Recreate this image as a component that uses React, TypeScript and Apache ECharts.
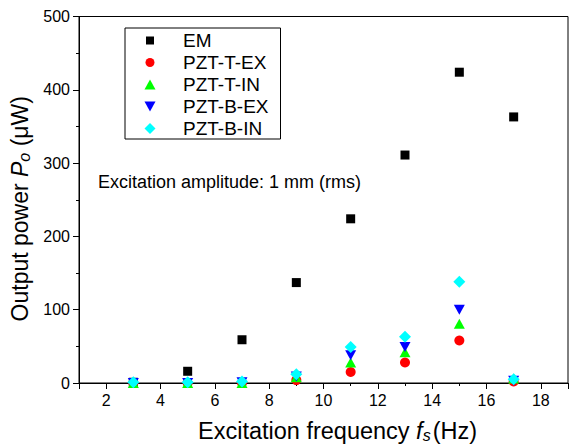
import React, { useEffect, useRef } from "react";
import * as echarts from "echarts";

const frequencies = [3, 5, 7, 9, 11, 13, 15, 17];
const emPower = [1, 16, 59, 137, 224, 311, 424, 363];
const pztTExPower = [0, 0, 0, 4, 15, 28, 58, 2];
const pztTInPower = [0, 0, 0, 8, 28, 42, 81, 6];
const pztBExPower = [0, 0, 1, 9, 38, 49, 100, 3];
const pztBInPower = [1, 1, 2, 12, 49, 63, 138, 5];
const seriesNames = ["EM", "PZT-T-EX", "PZT-T-IN", "PZT-B-EX", "PZT-B-IN"];
const annotation = "Excitation amplitude: 1 mm (rms)";

const FONT = "'Liberation Sans', Arial, sans-serif";
const PAD = "path://M0,0M14,14";
const legendIcons = [
  PAD + "M3,3L11,3L11,11L3,11Z",
  PAD + "M2.5,7A4.5,4.5,0,1,1,11.5,7A4.5,4.5,0,1,1,2.5,7Z",
  PAD + "M1.5,12L12.5,12L7,2Z",
  PAD + "M1.5,2L12.5,2L7,12Z",
  PAD + "M7,1.5L12.5,7L7,12.5L1.5,7Z",
];
const colors = ["#000000", "#ff0000", "#00ff00", "#0000ff", "#00ffff"];
const symbols: any[] = ["rect", "circle", "triangle", "path://M0,0L10,0L5,9Z", "diamond"];
const symbolSizes: any[] = [9, 10, [11, 10], [11, 10], 12];

export default function App() {
  const ref = useRef<HTMLDivElement>(null);
  useEffect(() => {
    if (!ref.current) return;
    const chart = echarts.init(ref.current, undefined, { renderer: "svg" });
    const values = [emPower, pztTExPower, pztTInPower, pztBExPower, pztBInPower];
    const series = seriesNames.map((name, i) => ({
      name,
      type: "scatter",
      xAxisIndex: 0,
      symbol: symbols[i],
      symbolSize: symbolSizes[i],
      itemStyle: { color: colors[i], opacity: 1 },
      data: frequencies.map((f, j) => [f, values[i][j]]),
    }));
    chart.setOption({
      animation: false,
      backgroundColor: "#ffffff",
      textStyle: { fontFamily: FONT },
      grid: {
        left: 79,
        top: 16.5,
        right: -1,
        bottom: 64.7,
        show: true,
        borderColor: "#000",
        borderWidth: 1,
      },
      legend: {
        orient: "vertical",
        left: 125,
        top: 28,
        borderColor: "#000",
        borderWidth: 1,
        padding: [3, 12, 1, 18],
        itemWidth: 14,
        itemHeight: 14,
        itemGap: 3,
        textStyle: { fontSize: 19, color: "#000", fontFamily: FONT, padding: [0, 0, 0, 21] },
        data: seriesNames.map((name, i) => ({ name, icon: legendIcons[i] })),
      },
      xAxis: [
        {
          type: "value",
          min: 1,
          max: 19,
          splitNumber: 9,
          name: "Excitation frequency {i|f}{sub|s}(Hz)",
          nameLocation: "middle",
          nameGap: 36,
          nameTextStyle: {
            fontSize: 23.5,
            color: "#000",
            fontFamily: FONT,
            padding: [0, 0, 0, 28],
            rich: {
              i: { fontSize: 23.5, fontStyle: "italic", fontFamily: FONT, color: "#000" },
              sub: { fontSize: 16, fontStyle: "italic", fontFamily: FONT, color: "#000", padding: [8, 2, 0, 0] },
            },
          },
          axisLine: { show: true, onZero: false, lineStyle: { color: "#000", width: 1 } },
          axisTick: { show: true, length: 6, lineStyle: { color: "#000" } },
          axisLabel: {
            fontSize: 16,
            color: "#000",
            fontFamily: FONT,
            margin: 9,
            formatter: (v: number) => (v % 2 === 0 ? String(v) : ""),
          },
          splitLine: { show: false },
        },
        {
          type: "value",
          min: 1,
          max: 19,
          interval: 2,
          position: "bottom",
          axisLine: { show: false },
          axisTick: { show: true, length: 3, lineStyle: { color: "#000" } },
          axisLabel: { show: false },
          splitLine: { show: false },
        },
      ],
      yAxis: {
        type: "value",
        min: 0,
        max: 500,
        interval: 100,
        name: "Output power {i|P}{sub|o} (μW)",
        nameLocation: "middle",
        nameGap: 44,
        nameTextStyle: {
          fontSize: 23,
          color: "#000",
          fontFamily: FONT,
          padding: [0, 18, 0, 0],
          rich: {
            i: { fontSize: 23, fontStyle: "italic", fontFamily: FONT, color: "#000" },
            sub: { fontSize: 16, fontStyle: "italic", fontFamily: FONT, color: "#000", padding: [8, 0, 0, 0] },
          },
        },
        axisLine: { show: true, lineStyle: { color: "#000", width: 1 } },
        axisTick: { show: true, length: 6, lineStyle: { color: "#000" } },
        minorTick: { show: true, splitNumber: 2, length: 3, lineStyle: { color: "#000" } },
        axisLabel: { fontSize: 16, color: "#000", fontFamily: FONT, margin: 9 },
        splitLine: { show: false },
      },
      graphic: [
        {
          type: "text",
          left: 98,
          top: 173,
          style: { text: annotation, fontSize: 18, fontFamily: FONT, fill: "#000" },
        },
      ],
      series,
    });
    return () => chart.dispose();
  }, []);
  return (
    <div
      ref={ref}
      style={{ position: "fixed", left: 0, top: 0, width: 571, height: 448, background: "#fff" }}
    />
  );
}
